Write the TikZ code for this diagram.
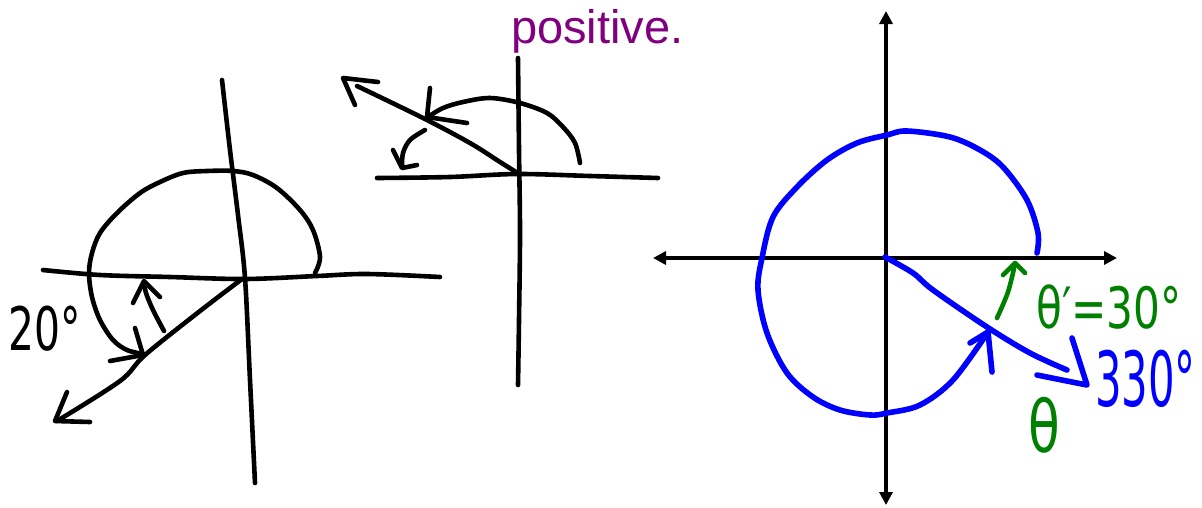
\documentclass[tikz,border=0pt]{standalone}
\usepackage{fontspec}
\setmainfont{Liberation Sans}
\newfontfamily\hand{DejaVu Sans}
\usetikzlibrary{arrows.meta}
\definecolor{pblue}{RGB}{0,0,255}
\definecolor{pgreen}{RGB}{0,128,0}
\definecolor{ppurple}{RGB}{128,0,128}
\tikzset{
  pen/.style={line width=4.6pt, line cap=round, line join=round},
  bpen/.style={pen, line width=5.6pt, draw=pblue},
  gpen/.style={pen, draw=pgreen},
  axisline/.style={line width=4.6pt, {Triangle[length=13pt,width=13pt]}-{Triangle[length=13pt,width=13pt]}},
  hw/.style={inner sep=0pt, font=\hand},
  sm/.style={smooth, tension=0.55},
}
\begin{document}
\begin{tikzpicture}[x=1pt,y=-1pt]
\useasboundingbox (0,0) rectangle (1202,507);
\fill[white] (0,0) rectangle (1202,507);

% ---------- left diagram ----------
\draw[pen] plot[sm] coordinates {(43,270) (100,275) (170,277) (245,279) (317,276) (367,274) (440,277)};
\draw[pen] plot[sm] coordinates {(222,80) (230,150) (238,215) (245,278) (250,380) (255,483)};
\draw[pen] plot[sm] coordinates {(315,273) (320,257) (313,230) (300,210) (277,188) (253,175) (233,171) (207,171) (183,173) (160,182) (140,193) (117,213) (100,233) (92,253) (89,273) (92,297) (100,320) (113,340) (127,350) (143,354)};
\draw[pen] (110,361) -- (143,355) -- (135,328);
\draw[pen] plot[sm] coordinates {(242,279) (200,311) (145,355) (120,381) (57,421)};
\draw[pen] (67,392) -- (55,421) -- (90,422);
\draw[pen] plot[sm] coordinates {(164,331) (153,310) (146,293) (144,282)};
\draw[pen] (133,303) -- (144,281) -- (160,297);
\node[hw, anchor=base west] (t20) at (8,350) {\fontsize{60}{62}\selectfont\scalebox{0.68}[1]{20°}};

% ---------- middle diagram ----------
\node[anchor=base west, inner sep=0pt, text=ppurple] (tpos) at (511,43) {\fontsize{47}{50}\selectfont positive.};
\draw[pen] plot[sm] coordinates {(377,178) (450,177) (517,174) (590,176) (658,178)};
\draw[pen] plot[sm] coordinates {(518,58) (519,150) (520,233) (519,320) (518,385)};
\draw[pen] plot[sm] coordinates {(580,163) (575,143) (563,127) (547,113) (520,103) (490,98) (463,102) (443,108) (428,117)};
\draw[pen] (430,88) -- (427,117) -- (467,123);
\draw[pen] plot[sm] coordinates {(516,172) (500,162) (470,143) (423,118) (357,86)};
\draw[pen] (355,105) -- (343,78) -- (378,82);
\draw[pen] plot[sm] coordinates {(425,130) (410,140) (403,153) (402,167)};
\draw[pen] (393,150) -- (402,168) -- (417,165);

% ---------- right diagram ----------
\draw[axisline] (653,258) -- (1117,258);
\draw[axisline] (886,11) -- (886,505);
\draw[bpen] plot[sm] coordinates {(1037,253) (1038,233) (1027,200) (1003,167) (980,150) (950,137) (907,131) (887,135) (857,143) (827,160) (797,187) (773,217) (762,258) (758,290) (767,333) (787,373) (813,397) (840,410) (870,415) (887,413) (920,405) (953,380) (988,332)};
\draw[bpen] (970,343) -- (988,332) -- (992,372);
\draw[bpen] plot[sm] coordinates {(885,257) (913,273) (933,290) (987,327) (1030,353) (1067,370)};
\draw[bpen] (1037,375) -- (1087,385) -- (1072,338);
\draw[gpen] plot[sm] coordinates {(997,318) (1008,292) (1015,264)};
\draw[gpen] (1003,275) -- (1015,263) -- (1025,273);
\node[hw, anchor=base west, text=pgreen] (tprime) at (1036,328) {\fontsize{57}{59}\selectfont\scalebox{0.74}[1]{θ′=30°}};
\node[hw, anchor=base west, text=pblue] (t330) at (1095,406) {\fontsize{76}{78}\selectfont\scalebox{0.55}[1]{330°}};
\node[hw, anchor=base west, text=pgreen] (ttheta) at (1028,452) {\fontsize{72}{74}\selectfont\scalebox{0.72}[1]{θ}};
\end{tikzpicture}
\end{document}
